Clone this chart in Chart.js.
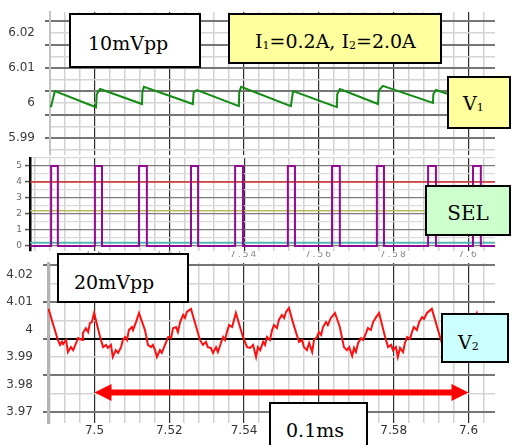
<!DOCTYPE html>
<html><head><meta charset="utf-8">
<script src="https://cdn.jsdelivr.net/npm/chart.js@4/dist/chart.umd.min.js"></script>
<style>
html,body{margin:0;padding:0;background:#fff;}
#wrap{position:relative;width:511px;height:445px;overflow:hidden;background:#fff;}
canvas{position:absolute;left:0;}
.box{position:absolute;box-sizing:border-box;border:2px solid #000;font-family:"DejaVu Serif",serif;font-size:19px;color:#000;line-height:1;display:flex;align-items:center;white-space:nowrap;z-index:5;}
.sub{font-size:11px;vertical-align:-1px;}
</style></head>
<body><div id="wrap">
<canvas id="c1" width="511" height="170" style="top:0"></canvas>
<canvas id="c2" width="511" height="130" style="top:140px"></canvas>
<canvas id="c3" width="511" height="195" style="top:250px"></canvas>

<div class="box" style="left:69px;top:13px;width:132px;height:55px;background:#fff;padding-left:17px;padding-top:5px;"><span>10mVpp</span></div>
<div class="box" style="left:228px;top:13px;width:214px;height:51px;background:#ffff9e;padding-left:25px;padding-top:6px;"><span>I<span class="sub">1</span>=0.2A, I<span class="sub">2</span>=2.0A</span></div>
<div class="box" style="left:447px;top:76px;width:64px;height:53px;background:#ffff9e;padding-left:14px;padding-top:2px;"><span>V<span class="sub">1</span></span></div>
<div class="box" style="left:425px;top:185px;width:86px;height:51px;background:#ccffcc;justify-content:center;padding-top:4px;font-size:20px;"><span>SEL</span></div>
<div class="box" style="left:57px;top:253px;width:132px;height:50px;background:#fff;padding-left:15px;padding-top:9px;"><span>20mVpp</span></div>
<div class="box" style="left:441px;top:313px;width:68px;height:50px;background:#ccffff;padding-left:15px;padding-top:8px;"><span>V<span class="sub">2</span></span></div>
<div class="box" style="left:269px;top:402px;width:99px;height:52px;background:#fff;padding-left:15px;align-items:flex-start;padding-top:17px;"><span>0.1ms</span></div>
</div>
<script>
// ---------- DATA ----------
// V1 (upper trace, volts) vs time
const v1X = [7.4881, 7.4884, 7.4894, 7.5004, 7.5006, 7.5015, 7.5127, 7.5128, 7.5132, 7.5263, 7.5265, 7.5274, 7.5386, 7.5387, 7.5392, 7.5525, 7.5531, 7.5648, 7.5649, 7.5656, 7.5758, 7.5760, 7.5771, 7.5905, 7.5906, 7.5913, 7.6025, 7.6033, 7.6071];
const v1Y = [5.9991, 5.9991, 6.0034, 5.9988, 6.0025, 6.0040, 5.9997, 6.0030, 6.0046, 5.9997, 6.0030, 6.0037, 5.9991, 6.0030, 6.0046, 5.9991, 6.0034, 5.9988, 6.0025, 6.0040, 5.9997, 6.0035, 6.0049, 6.0000, 6.0025, 6.0037, 5.9997, 6.0043, 6.0031];

// SEL pulses (purple): rising and falling edges, levels
const selOn  = [7.4884, 7.5001, 7.5119, 7.5258, 7.5376, 7.5517, 7.5635, 7.5755, 7.5892, 7.6012];
const selOff = [7.4902, 7.5020, 7.5140, 7.5277, 7.5397, 7.5536, 7.5656, 7.5774, 7.5913, 7.6033];
const selLevels = [0, 5];
const traceSpan = [7.4828, 7.6071];
// constant reference traces in the SEL panel
const refLevels = [4.0, 2.2, 0.2];

// V2 (lower trace, volts) vs time
const v2X = [7.4877,
 7.4902, 7.4908, 7.4913, 7.4916, 7.4924, 7.4929, 7.4937, 7.4943, 7.4951, 7.4956, 7.4967, 7.4969, 7.4977, 7.4983, 7.4988, 7.4993, 7.4999,
 7.5015, 7.5023, 7.5031, 7.5036, 7.5044, 7.5049, 7.5057, 7.5063, 7.5071, 7.5076, 7.5082, 7.5087, 7.5092, 7.5100, 7.5103, 7.5111, 7.5119,
 7.5135, 7.5143, 7.5151, 7.5156, 7.5162, 7.5167, 7.5175, 7.5180, 7.5186, 7.5194, 7.5197, 7.5205, 7.5210, 7.5218, 7.5223, 7.5229, 7.5237, 7.5242, 7.5247, 7.5258,
 7.5282, 7.5290, 7.5298, 7.5303, 7.5311, 7.5317, 7.5325, 7.5330, 7.5338, 7.5344, 7.5349, 7.5354, 7.5360, 7.5368, 7.5378,
 7.5397, 7.5408, 7.5416, 7.5424, 7.5432, 7.5437, 7.5443, 7.5451, 7.5456, 7.5461, 7.5469, 7.5475, 7.5480, 7.5488, 7.5493, 7.5501, 7.5507, 7.5512, 7.5520,
 7.5531, 7.5541, 7.5547, 7.5555, 7.5560, 7.5568, 7.5574, 7.5582, 7.5587, 7.5595, 7.5600, 7.5606, 7.5611, 7.5619, 7.5624, 7.5632, 7.5643,
 7.5656, 7.5667, 7.5675, 7.5681, 7.5689, 7.5694, 7.5699, 7.5705, 7.5713, 7.5718, 7.5726, 7.5731, 7.5739, 7.5745, 7.5753, 7.5761,
 7.5777, 7.5785, 7.5793, 7.5798, 7.5806, 7.5811, 7.5817, 7.5825, 7.5830, 7.5836, 7.5844, 7.5849, 7.5854, 7.5862, 7.5868, 7.5876, 7.5881, 7.5889, 7.5902,
 7.5924, 7.5932, 7.5940, 7.5948, 7.5956, 7.5964, 7.5972, 7.5980, 7.5988, 7.5996, 7.6004, 7.6012, 7.6022, 7.6033, 7.6041, 7.6052, 7.6062, 7.6071];
const v2Y = [4.0075,
 3.9962, 3.9944, 3.9955, 3.9947, 3.9962, 3.9918, 3.9936, 3.9925, 3.9951, 3.9969, 3.9962, 3.9987, 4.0005, 3.9991, 4.0024, 4.0027, 4.0060,
 3.9973, 3.9936, 3.9944, 3.9933, 3.9944, 3.9900, 3.9925, 3.9915, 3.9936, 3.9962, 3.9973, 3.9962, 3.9998, 4.0009, 3.9998, 4.0027, 4.0060,
 3.9998, 3.9944, 3.9936, 3.9944, 3.9925, 3.9900, 3.9925, 3.9915, 3.9936, 3.9962, 3.9973, 3.9969, 4.0005, 4.0009, 3.9991, 4.0027, 4.0053, 4.0042, 4.0064, 4.0075,
 3.9962, 3.9944, 3.9955, 3.9936, 3.9933, 3.9915, 3.9936, 3.9918, 3.9951, 3.9973, 3.9962, 3.9991, 4.0016, 4.0009, 4.0060,
 3.9973, 3.9936, 3.9933, 3.9944, 3.9900, 3.9936, 3.9925, 3.9955, 3.9944, 3.9973, 3.9962, 3.9998, 4.0016, 4.0005, 4.0035, 4.0053, 4.0042, 4.0064, 4.0078,
 4.0024, 3.9980, 3.9955, 3.9962, 3.9936, 3.9925, 3.9951, 3.9918, 3.9962, 3.9973, 3.9991, 3.9980, 4.0009, 4.0027, 4.0016, 4.0042, 4.0060,
 4.0009, 3.9936, 3.9925, 3.9936, 3.9904, 3.9933, 3.9918, 3.9951, 3.9969, 3.9962, 3.9987, 4.0005, 3.9998, 4.0027, 4.0045, 4.0060,
 3.9973, 3.9936, 3.9944, 3.9925, 3.9936, 3.9900, 3.9933, 3.9918, 3.9951, 3.9973, 3.9966, 3.9991, 4.0009, 3.9998, 4.0027, 4.0045, 4.0038, 4.0060, 4.0075,
 3.9973, 3.9936, 3.9944, 3.9918, 3.9900, 3.9929, 3.9915, 3.9947, 3.9969, 3.9987, 4.0016, 4.0035, 4.0060, 3.9998, 3.9944, 3.9933, 3.9918, 3.9936];

// 0.1 ms marker arrow
const arrowX = [7.5, 7.6];
const arrowY = [3.9771];

// ---------- LAYOUT ----------
const X_MAX = 7.60709;
const X_MIN1 = 7.48810, X_MIN2 = 7.48275, X_MIN3 = 7.48757;
const Y1 = [5.98514, 6.026];
const Y2 = [-0.3125, 5.5];
const Y3 = [3.9660, 4.02418];

const isMajorX = v => Math.round(v * 1000) % 20 === 0;
const fmt2 = v => String(Number(Number(v).toFixed(2)));
const TRANSP = 'rgba(0,0,0,0)';

function timeAxis(min, show, font, color, padding, height) {
  return {
    type: 'linear', position: 'bottom', min: min, max: X_MAX,
    border: {display: false},
    grid: {drawTicks: false,
      color: c => isMajorX(c.tick.value) ? '#2e2e2e' : '#d2d2d2',
      lineWidth: c => isMajorX(c.tick.value) ? 1.2 : 1.5},
    ticks: {display: show, stepSize: 0.004, includeBounds: false, autoSkip: false,
      maxRotation: 0, minRotation: 0, padding: padding, font: font, color: color,
      callback: v => isMajorX(v) ? fmt2(v) : ''},
    afterFit: s => { s.height = height; s.paddingLeft = 0; s.paddingRight = 0; }
  };
}
function labelAxis(range, step, width, font, color) {
  return {
    type: 'linear', position: 'left', weight: 1, min: range[0], max: range[1],
    grid: {display: false}, border: {display: false},
    ticks: {stepSize: step, includeBounds: false, autoSkip: false, padding: 2, font: font, color: color,
      callback: v => fmt2(v)},
    afterFit: s => { s.width = width; s.paddingTop = 0; s.paddingBottom = 0; }
  };
}
function gridAxis(min, max, borderColor, borderWidth, darkFn, colFn) {
  return {
    type: 'linear', position: 'left', weight: 0, min: min, max: max,
    border: {display: true, color: borderColor, width: borderWidth},
    grid: {tickLength: 5, tickWidth: 2,
      color: c => colFn(Math.round(c.tick.value)),
      lineWidth: c => darkFn(Math.round(c.tick.value)) ? 2 : 1.5,
      tickColor: c => darkFn(Math.round(c.tick.value)) ? '#6e6e6e' : TRANSP},
    ticks: {display: false, stepSize: 1, includeBounds: false, autoSkip: false},
    afterFit: s => { s.width = 5; s.paddingTop = 0; s.paddingBottom = 0; }
  };
}
const base = {
  responsive: false, animation: false, events: [],
  plugins: {legend: {display: false}, tooltip: {enabled: false}},
  elements: {point: {radius: 0}, line: {tension: 0}}
};
const sansSmall = {family: 'DejaVu Sans', size: 12};

// ---------- PANEL 1 : V1 ----------
const odd = k => Math.abs(k % 2) === 1;
new Chart(document.getElementById('c1'), {
  type: 'line',
  data: {datasets: [{data: v1X.map((x, i) => ({x: x, y: v1Y[i]})), borderColor: '#128c12', borderWidth: 2, yAxisID: 'y'}]},
  options: Object.assign({}, base, {
    layout: {padding: {top: 12, bottom: 15, left: 0, right: 16}},
    scales: {
      x: timeAxis(X_MIN1, false, sansSmall, '#333', 0, 0),
      y: labelAxis(Y1, 0.01, 45, sansSmall, '#3a3a3a'),
      yg: gridAxis(Y1[0] * 300, Y1[1] * 300, '#c4c4c4', 2, odd, k => odd(k) ? '#767676' : '#d4d4d4')
    }
  })
});

// ---------- PANEL 2 : SEL ----------
const selPts = [{x: traceSpan[0], y: selLevels[0]}];
selOn.forEach((on, i) => {
  selPts.push({x: on, y: selLevels[0]}, {x: on, y: selLevels[1]}, {x: selOff[i], y: selLevels[1]}, {x: selOff[i], y: selLevels[0]});
});
selPts.push({x: traceSpan[1], y: selLevels[0]});
const refColors = ['#dd3a3a', '#bcbc55', '#56b6b6'];
const refWidths = [1.6, 1.6, 2];
const ctx2Letter = {id: 'ls', beforeDraw(chart) { try { chart.ctx.letterSpacing = '2px'; } catch (e) {} }};
new Chart(document.getElementById('c2'), {
  type: 'line',
  data: {datasets: [{data: selPts, borderColor: '#930a93', borderWidth: 2}].concat(
    refLevels.map((lv, i) => ({data: traceSpan.map(x => ({x: x, y: lv})), borderColor: refColors[i], borderWidth: refWidths[i]})))},
  options: Object.assign({}, base, {
    layout: {padding: {top: 18, bottom: 7, left: 0, right: 16}},
    scales: {
      x: timeAxis(X_MIN2, true, {family: 'DejaVu Sans', size: 9}, '#8a8a8a', -2, 12),
      y: {type: 'linear', position: 'left', min: Y2[0], max: Y2[1],
        border: {display: true, color: '#000', width: 2.5},
        grid: {tickLength: 5, tickWidth: 1.5,
          color: c => Number.isInteger(c.tick.value) ? '#7c7c7c' : '#dadada',
          lineWidth: 1.2,
          tickColor: c => Number.isInteger(c.tick.value) ? '#555' : TRANSP},
        ticks: {stepSize: 0.5, includeBounds: false, autoSkip: false, padding: 1,
          font: {family: 'DejaVu Sans', size: 9}, color: '#6a6a6a',
          callback: v => Number.isInteger(v) ? String(v) : ''},
        afterFit: s => { s.width = 30; s.paddingTop = 0; s.paddingBottom = 0; }}
    }
  }),
  plugins: [ctx2Letter]
});

// ---------- PANEL 3 : V2 ----------
const arrowPlugin = {
  id: 'arrow',
  afterDatasetsDraw(chart) {
    const {ctx, scales} = chart;
    const xa = scales.x.getPixelForValue(arrowX[0]);
    const xb = scales.x.getPixelForValue(arrowX[1]);
    const yy = scales.y.getPixelForValue(arrowY[0]);
    ctx.save();
    ctx.fillStyle = '#ff0000'; ctx.strokeStyle = '#ff0000';
    ctx.lineWidth = 6;
    ctx.beginPath(); ctx.moveTo(xa + 12, yy); ctx.lineTo(xb - 12, yy); ctx.stroke();
    ctx.beginPath(); ctx.moveTo(xa, yy); ctx.lineTo(xa + 17, yy - 8.5); ctx.lineTo(xa + 17, yy + 8.5); ctx.closePath(); ctx.fill();
    ctx.beginPath(); ctx.moveTo(xb, yy); ctx.lineTo(xb - 17, yy - 8.5); ctx.lineTo(xb - 17, yy + 8.5); ctx.closePath(); ctx.fill();
    ctx.restore();
  }
};
new Chart(document.getElementById('c3'), {
  type: 'line',
  data: {datasets: [{data: v2X.map((x, i) => ({x: x, y: v2Y[i]})), borderColor: '#ff1010', borderWidth: 2, yAxisID: 'y'}]},
  options: Object.assign({}, base, {
    layout: {padding: {top: 13, bottom: 0, left: 0, right: 16}},
    scales: {
      x: timeAxis(X_MIN3, true, sansSmall, '#333', 1, 22),
      y: labelAxis(Y3, 0.01, 43, sansSmall, '#3a3a3a'),
      yg: gridAxis(Y3[0] * 150 - 0.5, Y3[1] * 150 - 0.5, '#b4b4b4', 3, odd,
        k => k === 599 ? '#000' : (odd(k) ? '#767676' : '#d4d4d4'))
    }
  }),
  plugins: [arrowPlugin]
});
</script>
</body></html>
